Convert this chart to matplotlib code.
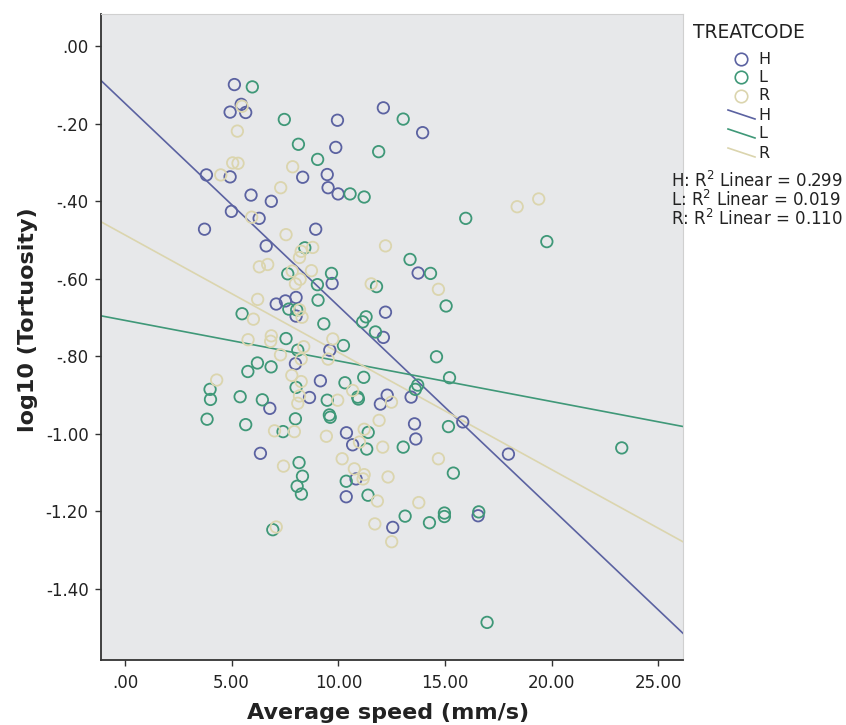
import numpy as np
import matplotlib
matplotlib.use("Agg")
import matplotlib.pyplot as plt
from matplotlib.lines import Line2D

# ---------------- data ----------------
h_speed = [5.13, 5.45, 4.93, 5.66, 9.96, 9.88, 3.82, 4.93, 8.33, 9.48, 9.52, 9.99, 5.91, 6.86,
           4.99, 6.29, 12.11, 13.95, 3.73, 8.94, 6.62, 9.71, 7.09, 7.52, 8.02, 8.02, 9.60, 7.99,
           13.74, 12.21, 12.11, 6.79, 9.16, 8.65, 10.38, 6.35, 10.37, 13.41, 12.29, 11.97, 15.83,
           13.57, 13.63, 10.67, 10.83, 16.55, 12.55, 17.97]
h_tort = [-0.099, -0.150, -0.170, -0.171, -0.191, -0.261, -0.332, -0.337, -0.338, -0.331, -0.365,
          -0.381, -0.384, -0.400, -0.426, -0.444, -0.159, -0.223, -0.472, -0.472, -0.515, -0.612,
          -0.665, -0.657, -0.648, -0.696, -0.784, -0.819, -0.585, -0.686, -0.751, -0.934, -0.863,
          -0.906, -0.997, -1.050, -1.162, -0.905, -0.900, -0.923, -0.969, -0.974, -1.013, -1.028,
          -1.116, -1.211, -1.241, -1.052]

l_speed = [5.97, 7.47, 8.13, 9.03, 10.55, 13.04, 11.89, 11.21, 15.97, 8.43, 7.63, 9.68, 9.02, 9.05,
           7.68, 8.05, 5.49, 9.32, 7.55, 10.24, 8.10, 6.21, 6.85, 5.76, 13.36, 14.32, 11.79, 15.05,
           11.30, 11.14, 11.74, 14.60, 8.02, 10.31, 3.99, 4.01, 5.40, 6.44, 9.48, 9.58, 9.62, 3.85,
           5.66, 7.99, 7.41, 8.16, 8.32, 8.07, 8.27, 10.37, 11.19, 15.21, 13.72, 13.61, 10.91, 10.94,
           15.16, 11.40, 11.33, 13.04, 15.39, 11.39, 13.13, 14.27, 14.97, 14.97, 16.58, 6.93, 19.77,
           23.28, 16.97]
l_tort = [-0.105, -0.189, -0.253, -0.292, -0.381, -0.188, -0.272, -0.389, -0.444, -0.520, -0.587,
          -0.586, -0.615, -0.655, -0.678, -0.680, -0.690, -0.716, -0.754, -0.772, -0.784, -0.817,
          -0.827, -0.839, -0.550, -0.586, -0.620, -0.670, -0.698, -0.711, -0.737, -0.801, -0.880,
          -0.868, -0.885, -0.911, -0.904, -0.912, -0.913, -0.951, -0.957, -0.962, -0.976, -0.961,
          -0.994, -1.074, -1.109, -1.135, -1.155, -1.122, -0.854, -0.855, -0.874, -0.885, -0.905,
          -0.910, -0.981, -0.996, -1.039, -1.034, -1.101, -1.158, -1.212, -1.229, -1.204, -1.213,
          -1.201, -1.247, -0.504, -1.036, -1.486]

r_speed = [5.49, 5.27, 5.05, 5.30, 7.86, 4.49, 7.30, 5.94, 7.55, 8.80, 8.26, 8.18, 6.30, 6.69, 7.84,
           8.74, 8.21, 7.99, 6.22, 8.18, 8.30, 6.02, 5.77, 6.86, 6.83, 9.74, 8.38, 7.29, 8.26, 9.52,
           12.21, 11.54, 14.69, 7.82, 4.30, 8.26, 8.18, 8.10, 9.97, 7.01, 7.94, 9.44, 7.43, 10.18,
           10.67, 12.49, 11.91, 11.21, 10.99, 12.08, 14.69, 10.75, 11.21, 11.16, 12.33, 11.83, 13.77,
           11.71, 12.50, 7.09, 18.38, 19.39]
r_tort = [-0.155, -0.219, -0.301, -0.302, -0.311, -0.332, -0.365, -0.441, -0.486, -0.519, -0.529,
          -0.545, -0.569, -0.563, -0.580, -0.579, -0.601, -0.613, -0.653, -0.680, -0.699, -0.704,
          -0.757, -0.747, -0.761, -0.755, -0.775, -0.796, -0.807, -0.807, -0.515, -0.613, -0.627,
          -0.849, -0.861, -0.865, -0.902, -0.921, -0.913, -0.992, -0.994, -1.006, -1.083, -1.064,
          -0.888, -0.918, -0.965, -0.988, -1.021, -1.034, -1.064, -1.090, -1.105, -1.116, -1.111,
          -1.173, -1.177, -1.232, -1.278, -1.240, -0.414, -0.394]

groups = ["H", "L", "R"]
r2_values = ["0.299", "0.019", "0.110"]
x_ticks = [0, 5, 10, 15, 20, 25]
x_tick_labels = [".00", "5.00", "10.00", "15.00", "20.00", "25.00"]
y_ticks = [0, -0.2, -0.4, -0.6, -0.8, -1.0, -1.2, -1.4]
y_tick_labels = [".00", "-.20", "-.40", "-.60", "-.80", "-1.00", "-1.20", "-1.40"]

colors = {"H": "#5b62a1", "L": "#3f9878", "R": "#dbd5ae"}
series = {"H": (h_speed, h_tort), "L": (l_speed, l_tort), "R": (r_speed, r_tort)}

# ---------------- figure ----------------
W, H = 846, 725
fig = plt.figure(figsize=(W / 100, H / 100), dpi=100)
fig.patch.set_facecolor("white")
ax = fig.add_axes([101 / W, 1 - 660 / H, (683 - 101) / W, (660 - 14) / H])
ax.set_facecolor("#e7e8ea")

xlim = (-1.12, 26.15)
ylim = (-1.583, 0.083)
ax.set_xlim(*xlim)
ax.set_ylim(*ylim)

for g in groups:
    xs, ys = series[g]
    ax.scatter(xs, ys, s=68, facecolors="none", edgecolors=colors[g], linewidths=1.3, zorder=3)

for g in groups:
    xs, ys = series[g]
    slope, icpt = np.polyfit(xs, ys, 1)
    xx = np.array(xlim)
    ax.plot(xx, icpt + slope * xx, color=colors[g], lw=1.2, zorder=2)

ax.set_xticks(x_ticks)
ax.set_xticklabels(x_tick_labels)
ax.set_yticks(y_ticks)
ax.set_yticklabels(y_tick_labels)
ax.tick_params(axis="both", labelsize=12, length=4, width=1, color="#333333", labelcolor="#222222")
ax.tick_params(axis="x", pad=6)
ax.tick_params(axis="y", pad=5)
for side in ["left", "bottom"]:
    ax.spines[side].set_color("#333333")
    ax.spines[side].set_linewidth(1.3)
for side in ["top", "right"]:
    ax.spines[side].set_color("#d0d0d0")
    ax.spines[side].set_linewidth(0.8)

fig.text(388 / W, 1 - 713 / H, "Average speed (mm/s)", ha="center", va="center",
         fontsize=16, fontweight="bold", color="#222222")
fig.text(28 / W, 1 - 320 / H, "log10 (Tortuosity)", ha="center", va="center", rotation=90,
         fontsize=16, fontweight="bold", color="#222222")

# ---------------- legend ----------------
fig.text(693 / W, 1 - 32 / H, "TREATCODE", ha="left", va="center", fontsize=13.4, color="#222222")
row_y = [59, 77, 96, 115, 134, 153]
for i, g in enumerate(groups):
    y = row_y[i]
    fig.add_artist(Line2D([741 / W], [1 - y / H], marker="o", markersize=9, markerfacecolor="none",
                          markeredgecolor=colors[g], markeredgewidth=1.2, linestyle="none"))
    fig.text(758 / W, 1 - y / H, g, ha="left", va="center", fontsize=11.5, color="#222222")
for i, g in enumerate(groups):
    y = row_y[i + 3]
    fig.add_artist(Line2D([728 / W, 755 / W], [1 - (y - 5) / H, 1 - (y + 4) / H],
                          color=colors[g], lw=1.2))
    fig.text(758 / W, 1 - y / H, g, ha="left", va="center", fontsize=11.5, color="#222222")

r2_y = [181, 200, 219]
for i, g in enumerate(groups):
    fig.text(671 / W, 1 - r2_y[i] / H, g + ": R$^2$ Linear = " + r2_values[i], ha="left", va="center",
             fontsize=12, color="#222222")

fig.savefig("out.png", dpi=100)
